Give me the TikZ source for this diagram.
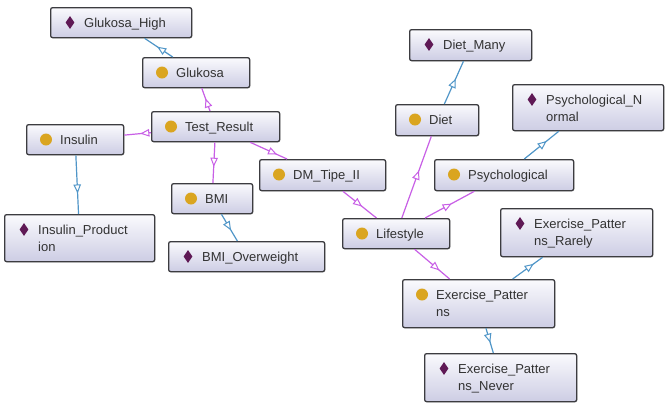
\documentclass[tikz,border=0pt]{standalone}
\usepackage{fontspec}
\setmainfont{Liberation Sans}
\usetikzlibrary{arrows.meta,decorations.markings,shadows,shapes.geometric}

\definecolor{edgemag}{RGB}{200,95,230}
\definecolor{edgeblue}{RGB}{80,150,200}
\definecolor{classgold}{RGB}{218,165,32}
\definecolor{indivpurple}{RGB}{95,25,85}
\definecolor{boxline}{RGB}{60,60,64}
\definecolor{boxtop}{RGB}{250,250,253}
\definecolor{boxbot}{RGB}{205,205,228}
\definecolor{labelgray}{RGB}{50,50,50}

\tikzset{
  ontobox/.style={draw=boxline, line width=1.3pt, rounded corners=2pt,
    top color=boxtop, bottom color=boxbot, anchor=north west, inner sep=0pt,
    drop shadow={shadow xshift=0.8pt, shadow yshift=-0.8pt, opacity=0.25}},
  classdot/.style={circle, fill=classgold, minimum size=12pt, inner sep=0pt},
  indivmark/.style={diamond, fill=indivpurple, minimum width=9pt,
    minimum height=13pt, inner sep=0pt},
  boxlabel/.style={anchor=base west, inner sep=0pt,
    font=\fontsize{13}{17}\selectfont, text=labelgray},
  subof/.style={draw=edgemag, line width=1.2pt,
    decoration={markings, mark=at position #1 with
      {\arrow[color=edgemag, line width=1pt]{Triangle[fill=white, length=9pt, width=7.5pt]}}},
    postaction={decorate}},
  hasinst/.style={draw=edgeblue, line width=1.2pt,
    decoration={markings, mark=at position #1 with
      {\arrow[color=edgeblue, line width=1pt]{Triangle[fill=white, length=9pt, width=7.5pt]}}},
    postaction={decorate}},
}

% a box with its icon (class dot or individual diamond) and its label
% #1 name, #2 icon style, #3 x, #4 y, #5 width, #6 height, #7 label
\newcommand\ontobox[7]{%
  \node[ontobox, minimum width=#5pt, minimum height=#6pt] (#1) at (#3,#4) {};
  \node[#2] (#1-icon) at ([xshift=20pt,yshift=-15.5pt]#1.north west) {};
  \node[boxlabel] (#1-text) at ([xshift=34pt,yshift=-20pt]#1.north west) {#7};
}
\newcommand\twolines[2]{\vtop{\hbox{#1}\hbox{#2}}}

\begin{document}
\begin{tikzpicture}[x=1pt, y=-1pt]
  \fill[white] (0,0) rectangle (667,405);
  \useasboundingbox (0,0) rectangle (667,405);

  % classes
  \ontobox{gl}{classdot}{142}{57}{107}{30}{Glukosa}
  \ontobox{tr}{classdot}{151}{111}{128}{30}{Test\_Result}
  \ontobox{ins}{classdot}{26}{124}{97}{30}{Insulin}
  \ontobox{dm}{classdot}{259}{159}{126}{31}{DM\_Tipe\_II}
  \ontobox{bmi}{classdot}{171}{183}{81}{30}{BMI}
  \ontobox{diet}{classdot}{395}{104}{83}{31}{Diet}
  \ontobox{psy}{classdot}{434}{159}{139}{31}{Psychological}
  \ontobox{ls}{classdot}{342}{218}{107}{30}{Lifestyle}
  \ontobox{ep}{classdot}{402}{279}{152}{48}{\twolines{Exercise\_Patter}{ns}}

  % individuals
  \ontobox{gh}{indivmark}{50}{7}{141}{30}{Glukosa\_High}
  \ontobox{dmany}{indivmark}{409}{29}{122}{31}{Diet\_Many}
  \ontobox{pn}{indivmark}{512}{84}{151}{46}{\twolines{Psychological\_N}{ormal}}
  \ontobox{ip}{indivmark}{4}{214}{150}{47}{\twolines{Insulin\_Product}{ion}}
  \ontobox{bmio}{indivmark}{168}{241}{156}{30}{BMI\_Overweight}
  \ontobox{epr}{indivmark}{500}{208}{152}{48}{\twolines{Exercise\_Patter}{ns\_Rarely}}
  \ontobox{epn}{indivmark}{424}{353}{152}{48}{\twolines{Exercise\_Patter}{ns\_Never}}

  % subclass links
  \draw[subof=0.55] (tr) -- (gl);
  \draw[subof=0.4] (tr) -- (ins);
  \draw[subof=0.6] (tr) -- (bmi);
  \draw[subof=0.73] (tr) -- (dm);
  \draw[subof=0.57] (dm) -- (ls);
  \draw[subof=0.58] (ls) -- (diet);
  \draw[subof=0.54] (ls) -- (psy);
  \draw[subof=0.71] (ls) -- (ep);

  % instance links
  \draw[hasinst=0.55] (gl) -- (gh);
  \draw[hasinst=0.65] (ins) -- (ip);
  \draw[hasinst=0.6] (bmi) -- (bmio);
  \draw[hasinst=0.59] (diet) -- (dmany);
  \draw[hasinst=0.65] (psy) -- (pn);
  \draw[hasinst=0.7] (ep) -- (epr);
  \draw[hasinst=0.58] (ep) -- (epn);
\end{tikzpicture}
\end{document}
